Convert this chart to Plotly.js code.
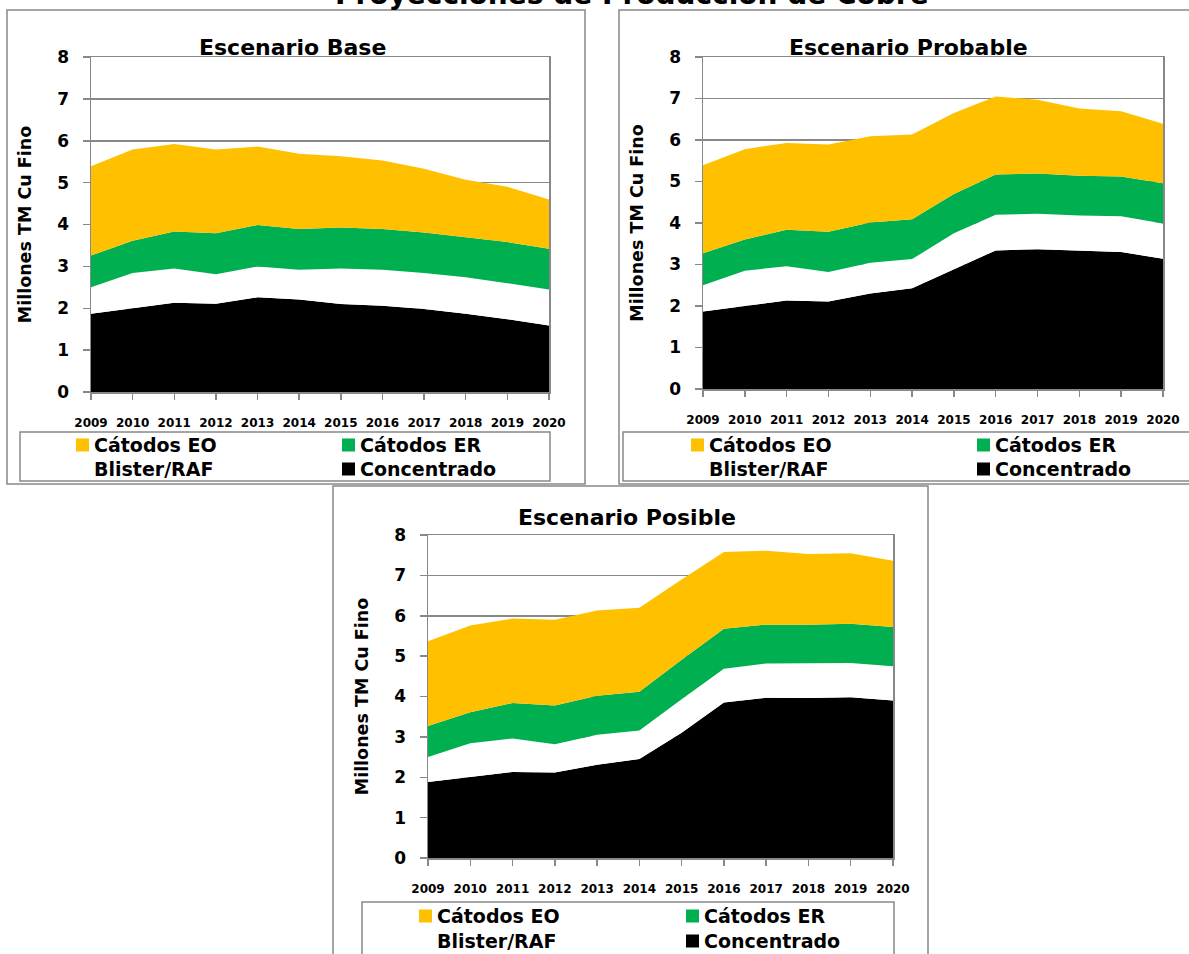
<!DOCTYPE html>
<html>
<head>
<meta charset="utf-8">
<script src="https://cdn.plot.ly/plotly-3.0.1.min.js"></script>
<style>html,body{margin:0;padding:0;background:#fff;}#chart{width:1189px;height:954px;}</style>
</head>
<body>
<div id="chart"></div>
<script>
// ---- data ----
const years = [2009, 2010, 2011, 2012, 2013, 2014, 2015, 2016, 2017, 2018, 2019, 2020];
const yearLabels = years.map(String);
const seriesNames = ["Cátodos EO", "Cátodos ER", "Blister/RAF", "Concentrado"];
const seriesColors = ["#FFC000", "#00B050", "#FFFFFF", "#000000"];
const panelTitles = ["Escenario Base", "Escenario Probable", "Escenario Posible"];
const mainTitle = "Proyecciones de Producción de Cobre";
const yTitle = "Millones TM Cu Fino";
const yTicks = [0, 1, 2, 3, 4, 5, 6, 7, 8];

// Escenario Base
const baseConcentrado = [1.87, 2.00, 2.13, 2.11, 2.26, 2.21, 2.10, 2.06, 1.98, 1.87, 1.74, 1.59];
const baseBlister     = [0.63, 0.84, 0.82, 0.70, 0.74, 0.71, 0.85, 0.86, 0.86, 0.87, 0.86, 0.86];
const baseER          = [0.76, 0.77, 0.88, 0.98, 0.99, 0.97, 0.98, 0.97, 0.97, 0.96, 0.98, 0.97];
const baseEO          = [2.13, 2.18, 2.09, 2.00, 1.87, 1.80, 1.70, 1.64, 1.52, 1.37, 1.32, 1.18];
// Escenario Probable
const probConcentrado = [1.87, 2.00, 2.13, 2.11, 2.30, 2.43, 2.88, 3.34, 3.37, 3.33, 3.30, 3.14];
const probBlister     = [0.63, 0.85, 0.83, 0.71, 0.74, 0.70, 0.87, 0.86, 0.85, 0.85, 0.86, 0.85];
const probER          = [0.77, 0.75, 0.88, 0.97, 0.97, 0.96, 0.95, 0.97, 0.97, 0.96, 0.96, 0.97];
const probEO          = [2.12, 2.18, 2.09, 2.10, 2.08, 2.04, 1.95, 1.88, 1.78, 1.62, 1.57, 1.43];
// Escenario Posible
const posConcentrado  = [1.88, 2.00, 2.13, 2.12, 2.31, 2.45, 3.10, 3.85, 3.97, 3.96, 3.98, 3.90];
const posBlister      = [0.62, 0.84, 0.83, 0.70, 0.74, 0.71, 0.83, 0.84, 0.85, 0.86, 0.85, 0.85];
const posER           = [0.77, 0.77, 0.88, 0.96, 0.97, 0.96, 0.98, 0.99, 0.96, 0.96, 0.97, 0.97];
const posEO           = [2.10, 2.15, 2.09, 2.12, 2.11, 2.08, 1.99, 1.90, 1.83, 1.75, 1.75, 1.64];

// ---- helpers ----
const W = 1189, H = 954;
const px = v => v / W;
const py = v => 1 - v / H;
const FONT = "DejaVu Sans";
const GRAY = "#888888";

const panels = [
  {data: [baseEO, baseER, baseBlister, baseConcentrado], xa: "x", ya: "y", sg: "base",
   leg: {c1: 92, c2: 358, r1: 445, r2: 469}},
  {data: [probEO, probER, probBlister, probConcentrado], xa: "x2", ya: "y2", sg: "prob",
   leg: {c1: 707, c2: 993, r1: 445, r2: 469}},
  {data: [posEO, posER, posBlister, posConcentrado], xa: "x3", ya: "y3", sg: "pos",
   leg: {c1: 435, c2: 702, r1: 916, r2: 941}}
];

const traces = [];
panels.forEach(p => {
  // bottom to top: Concentrado, Blister, ER, EO
  for (let i = 3; i >= 0; i--) {
    traces.push({
      type: "scatter", mode: "lines", x: years, y: p.data[i],
      stackgroup: p.sg, line: {width: 0, color: seriesColors[i]},
      fillcolor: seriesColors[i], xaxis: p.xa, yaxis: p.ya,
      showlegend: false, hoverinfo: "skip", name: seriesNames[i]
    });
  }
});

function xax(d0, d1, anchor) {
  return {
    domain: [px(d0), px(d1)], anchor: anchor, range: [2009, 2020],
    tickvals: years, ticktext: yearLabels, showgrid: false, zeroline: false,
    showline: true, linecolor: GRAY, linewidth: 1.5, mirror: true,
    ticks: "outside", ticklen: 6, tickcolor: GRAY, tickwidth: 1.5,
    ticklabelstandoff: 13,
    tickfont: {family: FONT, size: 12, color: "#000", weight: "bold"}
  };
}
function yax(t, b, anchor) {
  return {
    domain: [py(b), py(t)], anchor: anchor, range: [0, 8], tickvals: yTicks,
    showgrid: true, gridcolor: GRAY, gridwidth: 1.5, zeroline: false,
    showline: true, linecolor: GRAY, linewidth: 1.5, mirror: true,
    ticks: "outside", ticklen: 7, tickcolor: GRAY, tickwidth: 1.5,
    ticklabelstandoff: 10,
    tickfont: {family: FONT, size: 17, color: "#000", weight: "bold"},
    title: {text: yTitle, font: {family: FONT, size: 17.5, color: "#000", weight: "bold"}, standoff: 21}
  };
}

function rect(x0, y0, x1, y1, fill, lineW) {
  return {type: "rect", xref: "paper", yref: "paper", x0: px(x0), x1: px(x1), y0: py(y1), y1: py(y0),
    line: {color: lineW ? GRAY : "rgba(0,0,0,0)", width: lineW || 0}, fillcolor: fill || "rgba(0,0,0,0)", layer: "below"};
}

const shapes = [
  rect(7, 10, 585, 484, null, 1.5),
  rect(619, 10, 1195, 484, null, 1.5),
  rect(333, 486, 928, 962, null, 1.5),
  rect(20, 432, 550, 481, null, 1.5),
  rect(623, 432, 1195, 481, null, 1.5),
  rect(362, 902, 894, 962, null, 1.5)
];

const annotations = [
  {text: mainTitle, xref: "paper", yref: "paper", x: px(632), y: py(-6), xanchor: "center", yanchor: "middle",
   showarrow: false, font: {family: FONT, size: 28, color: "#000", weight: "bold"}},
  {text: panelTitles[0], xref: "paper", yref: "paper", x: px(292), y: py(47), xanchor: "center", yanchor: "middle",
   showarrow: false, font: {family: FONT, size: 22, color: "#000", weight: "bold"}},
  {text: panelTitles[1], xref: "paper", yref: "paper", x: px(908), y: py(47), xanchor: "center", yanchor: "middle",
   showarrow: false, font: {family: FONT, size: 22, color: "#000", weight: "bold"}},
  {text: panelTitles[2], xref: "paper", yref: "paper", x: px(627), y: py(517), xanchor: "center", yanchor: "middle",
   showarrow: false, font: {family: FONT, size: 22, color: "#000", weight: "bold"}}
];

// legends (EO, ER / Blister, Concentrado)
panels.forEach(p => {
  const L = p.leg;
  const pos = [[L.c1, L.r1], [L.c2, L.r1], [L.c1, L.r2], [L.c2, L.r2]];
  for (let i = 0; i < 4; i++) {
    const [tx, ty] = pos[i];
    shapes.push({type: "rect", xref: "paper", yref: "paper",
      x0: px(tx - 16), x1: px(tx - 3), y0: py(ty + 6.5), y1: py(ty - 6.5),
      line: {width: 0}, fillcolor: seriesColors[i], layer: "above"});
    annotations.push({text: seriesNames[i], xref: "paper", yref: "paper", x: px(tx), y: py(ty),
      xanchor: "left", yanchor: "middle", showarrow: false,
      font: {family: FONT, size: 19, color: "#000", weight: "bold"}});
  }
});

const layout = {
  width: W, height: H, margin: {l: 0, r: 0, t: 0, b: 0, autoexpand: false},
  paper_bgcolor: "#fff", plot_bgcolor: "#fff",
  font: {family: FONT, color: "#000"},
  xaxis: xax(91, 549, "y"), yaxis: yax(57, 392, "x"),
  xaxis2: xax(703, 1163, "y2"), yaxis2: yax(57, 389, "x2"),
  xaxis3: xax(428, 893, "y3"), yaxis3: yax(535, 858, "x3"),
  shapes: shapes, annotations: annotations, showlegend: false
};

Plotly.newPlot("chart", traces, layout, {displayModeBar: false, staticPlot: true});
</script>
</body>
</html>
